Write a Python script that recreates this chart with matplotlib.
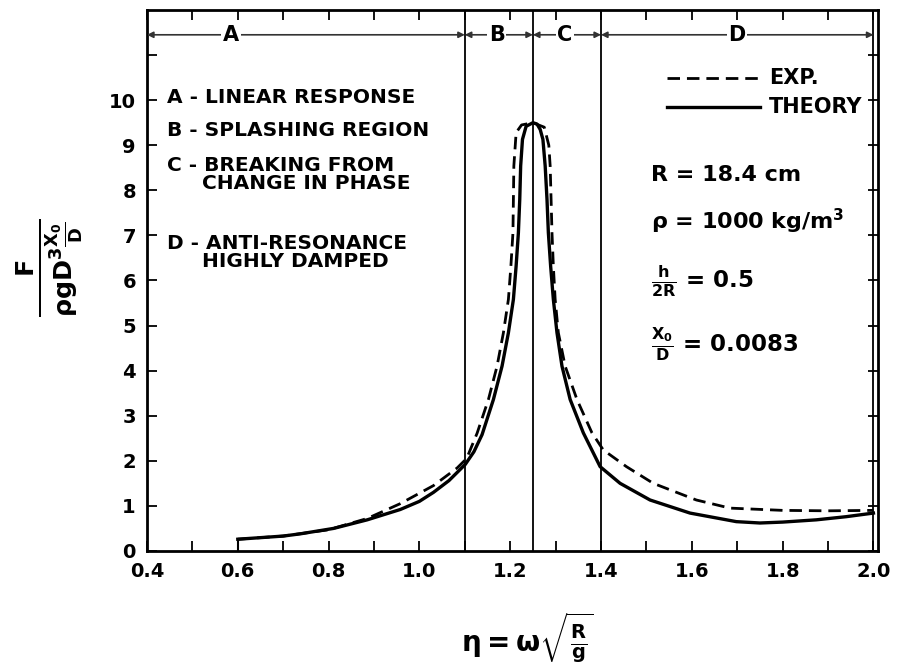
import numpy as np
import matplotlib.pyplot as plt
from matplotlib.ticker import MultipleLocator

plt.rcParams['mathtext.fontset'] = 'custom'
plt.rcParams['mathtext.rm'] = 'DejaVu Sans:bold'
plt.rcParams['mathtext.it'] = 'DejaVu Sans:bold'
plt.rcParams['mathtext.bf'] = 'DejaVu Sans:bold'
plt.rcParams['mathtext.default'] = 'rm'

# theory curve (solid)
theory_x = [0.60, 0.70, 0.738, 0.811, 0.885, 0.958, 1.00, 1.031, 1.065, 1.101, 1.12,
            1.138, 1.163, 1.182, 1.196, 1.207, 1.213, 1.218, 1.221, 1.223, 1.227,
            1.235, 1.25, 1.259, 1.266, 1.272, 1.277, 1.281, 1.284, 1.289, 1.295,
            1.303, 1.314, 1.332, 1.361, 1.398, 1.442, 1.508, 1.596, 1.698, 1.75,
            1.80, 1.874, 1.94, 2.00]
theory_y = [0.26, 0.33, 0.38, 0.50, 0.69, 0.92, 1.10, 1.30, 1.56, 1.92, 2.20,
            2.58, 3.36, 4.10, 4.84, 5.58, 6.32, 7.06, 7.80, 8.54, 9.13,
            9.42, 9.50, 9.47, 9.35, 9.13, 8.54, 7.80, 7.06, 6.32, 5.58,
            4.84, 4.10, 3.36, 2.62, 1.87, 1.50, 1.13, 0.84, 0.65, 0.62,
            0.64, 0.69, 0.76, 0.84]

# experiment curve (dashed)
exp_x = [0.60, 0.70, 0.80, 0.885, 0.958, 1.031, 1.083, 1.104, 1.127, 1.152, 1.171,
         1.185, 1.196, 1.2015, 1.206, 1.207, 1.208, 1.213, 1.225, 1.25, 1.275,
         1.285, 1.288, 1.290, 1.292, 1.295, 1.299, 1.306, 1.321, 1.347, 1.38,
         1.405, 1.456, 1.515, 1.61, 1.684, 1.80, 1.90, 2.00]
exp_y = [0.26, 0.33, 0.47, 0.72, 1.05, 1.45, 1.84, 2.05, 2.61, 3.36, 4.10,
         4.84, 5.58, 6.32, 7.06, 7.80, 8.54, 9.28, 9.45, 9.50, 9.40,
         9.00, 8.54, 7.80, 7.06, 6.32, 5.58, 4.84, 4.10, 3.36, 2.62,
         2.24, 1.87, 1.50, 1.13, 0.95, 0.90, 0.89, 0.90]

region_bounds = [0.40, 1.10, 1.25, 1.40, 2.00]
region_names = ['A', 'B', 'C', 'D']
region_label_x = [0.585, 1.17, 1.32, 1.70]

legend_lines = ['A - LINEAR RESPONSE', 'B - SPLASHING REGION',
                'C - BREAKING FROM\n     CHANGE IN PHASE',
                'D - ANTI-RESONANCE\n     HIGHLY DAMPED']
legend_y = [10.07, 9.33, 8.35, 6.62]

fig = plt.figure(figsize=(8.98, 6.67), dpi=100)
ax = fig.add_axes([0.1637, 0.174, 0.814, 0.811])

ax.plot(theory_x, theory_y, color='black', lw=2.4, solid_joinstyle='round')
ax.plot(exp_x, exp_y, color='black', lw=2.0, ls=(0, (4.5, 2.5)))

# start of theory curve drops to axis
ax.plot([theory_x[0], theory_x[0]], [0, theory_y[0]], color='black', lw=1.5)

for xb in region_bounds[1:]:
    ax.axvline(xb, color='black', lw=1.3)

# region arrows along top
ya = 11.45
for i, name in enumerate(region_names):
    x0, x1 = region_bounds[i], region_bounds[i + 1]
    ax.annotate('', xy=(x0, ya), xytext=(x1, ya),
                arrowprops=dict(arrowstyle='<|-|>', color='#333333', lw=1.2,
                                mutation_scale=9, shrinkA=0, shrinkB=0))
    ax.text(region_label_x[i], ya, name, ha='center', va='center', fontsize=15,
            fontweight='bold', bbox=dict(facecolor='white', edgecolor='none', pad=1))

for txt, y in zip(legend_lines, legend_y):
    ax.text(0.445, y, txt, ha='left', va='center', fontsize=14.5, fontweight='bold',
            linespacing=0.95)

# legend for curves
ax.plot([1.545, 1.75], [10.5, 10.5], color='black', lw=2.0, ls=(0, (4.5, 2.5)))
ax.plot([1.545, 1.75], [9.84, 9.84], color='black', lw=2.4)
ax.text(1.77, 10.5, 'EXP.', ha='left', va='center', fontsize=15, fontweight='bold')
ax.text(1.77, 9.84, 'THEORY', ha='left', va='center', fontsize=15, fontweight='bold')

ax.text(1.51, 8.33, 'R = 18.4 cm', ha='left', va='center', fontsize=16, fontweight='bold')
ax.text(1.51, 7.3, r'$\rho$ = 1000 kg/m$^3$', ha='left', va='center', fontsize=16,
        fontweight='bold')
ax.text(1.51, 5.98, r'$\frac{h}{2R}$ = 0.5', ha='left', va='center', fontsize=16.5,
        fontweight='bold')
ax.text(1.51, 4.58, r'$\frac{X_0}{D}$ = 0.0083', ha='left', va='center', fontsize=16.5,
        fontweight='bold')

ax.set_xlim(0.40, 2.01)
ax.set_ylim(0, 12)
ax.xaxis.set_major_locator(MultipleLocator(0.2))
ax.xaxis.set_minor_locator(MultipleLocator(0.1))
ax.set_yticks(range(0, 12))
ax.set_yticklabels([str(i) for i in range(0, 11)] + [''])
ax.set_xticklabels(['%.1f' % v for v in ax.get_xticks()])
ax.tick_params(direction='in', which='both', top=True, right=True, length=7, width=1.3,
               labelsize=14, pad=8)
for lab in ax.get_xticklabels() + ax.get_yticklabels():
    lab.set_fontweight('bold')
for sp in ax.spines.values():
    sp.set_linewidth(2)

ax.set_xlabel(r'$\eta = \omega\sqrt{\frac{R}{g}}$', fontsize=20)
ax.xaxis.set_label_coords(0.52, -0.11)

fig.text(50 / 898, 1 - 268 / 667, r'$\frac{F}{\rho g D^3 \frac{X_0}{D}}$', fontsize=26,
         rotation=90, ha='center', va='center')

fig.savefig('out.png', dpi=100)
